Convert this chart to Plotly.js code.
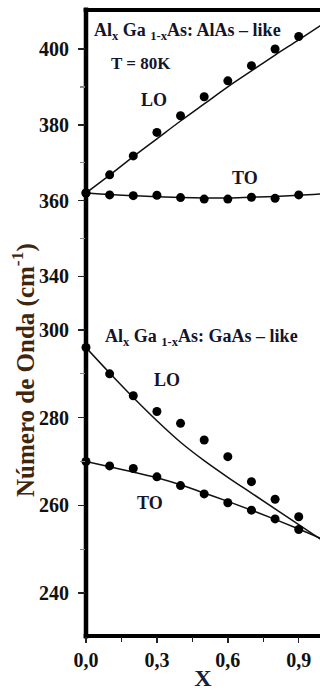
<!DOCTYPE html>
<html>
<head>
<meta charset="utf-8">
<script src="https://cdn.plot.ly/plotly-3.0.1.min.js"></script>
<style>
html,body{margin:0;padding:0;background:#fff;}
#chart{width:320px;height:691px;}
</style>
</head>
<body>
<div id="chart"></div>
<script>
// ---- data ----
var xPts = [0.0, 0.1, 0.2, 0.3, 0.4, 0.5, 0.6, 0.7, 0.8, 0.9];
var xFit = [0.0, 0.1, 0.2, 0.3, 0.4, 0.5, 0.6, 0.7, 0.8, 0.9, 1.0];

// AlAs-like (upper part of the broken axis)
var alasLO = [362.0, 366.8, 371.8, 378.0, 382.4, 387.4, 391.6, 395.6, 400.0, 403.3];
var alasTO = [362.0, 361.5, 361.3, 361.4, 360.8, 360.4, 360.4, 360.9, 360.6, 361.5];
var alasLOfit = [362.0, 366.7, 371.6, 376.3, 381.0, 385.5, 390.0, 394.2, 398.4, 402.4, 406.5];
var alasTOfit = [362.0, 361.6, 361.3, 361.0, 360.8, 360.7, 360.7, 360.9, 361.1, 361.4, 361.8];

// GaAs-like (lower part of the broken axis)
var gaasLO = [296.0, 290.0, 285.0, 281.4, 278.7, 274.9, 271.1, 265.4, 261.4, 257.4];
var xTOgaas = [0.0, 0.1, 0.2, 0.3, 0.4, 0.5, 0.6, 0.7, 0.8, 0.9, 1.0];
var gaasTO = [270.0, 269.0, 268.4, 266.5, 264.5, 262.6, 260.6, 258.9, 256.9, 254.5, 252.3];
var gaasLOfit = [296.0, 290.2, 284.6, 279.3, 274.4, 270.2, 266.4, 262.8, 259.2, 255.6, 252.0];
var gaasTOfit = [270.0, 268.8, 267.6, 266.3, 264.7, 262.8, 260.9, 258.9, 256.8, 254.6, 252.3];

// ticks
var xTickVals = [0.0, 0.3, 0.6, 0.9];
var xTickText = ['0,0', '0,3', '0,6', '0,9'];
var xMinorVals = [0.15, 0.45, 0.75];
var yTopTicks = [340, 360, 380, 400];
var yTopMinor = [350, 370, 390];
var yBotTicks = [240, 260, 280, 300];
var yBotMinor = [250, 270, 290];

// ---- styling ----
var serif = 'Liberation Serif, Times New Roman, serif';
var lineStyle = {color: '#111', width: 1.5, shape: 'spline'};
var markStyle = {color: '#000', size: 9};

var traces = [
  {x: xFit, y: alasLOfit, yaxis: 'y2', mode: 'lines', line: lineStyle, cliponaxis: false, hoverinfo: 'skip'},
  {x: xFit, y: alasTOfit, yaxis: 'y2', mode: 'lines', line: lineStyle, cliponaxis: false, hoverinfo: 'skip'},
  {x: xPts, y: alasLO, yaxis: 'y2', mode: 'markers', marker: markStyle, cliponaxis: false},
  {x: xPts, y: alasTO, yaxis: 'y2', mode: 'markers', marker: markStyle, cliponaxis: false},
  {x: xFit, y: gaasLOfit, yaxis: 'y', mode: 'lines', line: lineStyle, cliponaxis: false, hoverinfo: 'skip'},
  {x: xFit, y: gaasTOfit, yaxis: 'y', mode: 'lines', line: lineStyle, cliponaxis: false, hoverinfo: 'skip'},
  {x: xPts, y: gaasLO, yaxis: 'y', mode: 'markers', marker: markStyle, cliponaxis: false},
  {x: xTOgaas, y: gaasTO, yaxis: 'y', mode: 'markers', marker: markStyle, cliponaxis: false}
];

var tickFont = {family: serif, size: 20, color: '#111', weight: 700};
var split = 0.5367;

var ann = function(text, x, y, xref, yref, opts) {
  var a = {text: text, x: x, y: y, xref: xref, yref: yref, showarrow: false,
           xanchor: 'center', yanchor: 'middle',
           font: {family: serif, size: 18, color: '#14142a', weight: 700}};
  for (var k in (opts || {})) a[k] = opts[k];
  return a;
};

var layout = {
  width: 320, height: 691,
  margin: {l: 86, r: 0, t: 10, b: 55},
  paper_bgcolor: '#fff', plot_bgcolor: '#fff',
  showlegend: false,
  xaxis: {
    range: [0, 0.99], anchor: 'y',
    tickmode: 'array', tickvals: xTickVals, ticktext: xTickText,
    ticks: 'outside', ticklen: 6, tickwidth: 1.5, tickcolor: '#222',
    minor: {tickmode: 'array', tickvals: xMinorVals, ticks: 'outside', ticklen: 5, tickwidth: 1.2, tickcolor: '#222'},
    showgrid: false, zeroline: false, showline: false,
    tickfont: tickFont,
    title: {text: 'X', font: {family: serif, size: 24, color: '#14203a', weight: 700}, standoff: 0}
  },
  yaxis: {
    domain: [0, split], range: [230.19, 306.84], anchor: 'x',
    tickmode: 'array', tickvals: yBotTicks,
    ticks: 'outside', ticklen: 7, tickwidth: 1.5, tickcolor: '#222',
    ticklabelstandoff: 5,
    minor: {tickmode: 'array', tickvals: yBotMinor, ticks: 'outside', ticklen: 5, tickwidth: 1.2, tickcolor: '#888'},
    showgrid: false, zeroline: false, showline: false,
    tickfont: tickFont
  },
  yaxis2: {
    domain: [split, 1], range: [333.77, 410.29], anchor: 'x',
    tickmode: 'array', tickvals: yTopTicks,
    ticks: 'outside', ticklen: 7, tickwidth: 1.5, tickcolor: '#222',
    ticklabelstandoff: 5,
    minor: {tickmode: 'array', tickvals: yTopMinor, ticks: 'outside', ticklen: 5, tickwidth: 1.2, tickcolor: '#888'},
    showgrid: false, zeroline: false, showline: false,
    tickfont: tickFont
  },
  shapes: [
    {type: 'line', xref: 'paper', yref: 'paper', x0: 0, x1: 0, y0: -0.004, y1: 1.004, line: {color: '#000', width: 4.5}, layer: 'below'},
    {type: 'line', xref: 'paper', yref: 'paper', x0: -0.01, x1: 1.0, y0: 0, y1: 0, line: {color: '#000', width: 4}, layer: 'below'},
    {type: 'line', xref: 'paper', yref: 'paper', x0: -0.01, x1: 1.0, y0: 1, y1: 1, line: {color: '#000', width: 4}, layer: 'below'}
  ],
  annotations: [
    ann('Al<sub>x</sub> Ga <sub>1-x</sub>As: AlAs – like', 0.025, 404.5, 'x', 'y2', {xanchor: 'left', font: {family: serif, size: 18, color: '#14142a', weight: 700}}),
    ann('T = 80K', 0.233, 396.3, 'x', 'y2', {font: {family: serif, size: 17, color: '#14142a', weight: 700}}),
    ann('LO', 0.286, 386.5, 'x', 'y2'),
    ann('TO', 0.674, 366.0, 'x', 'y2'),
    ann('Al<sub>x</sub> Ga <sub>1-x</sub>As: GaAs – like', 0.072, 298.2, 'x', 'y', {xanchor: 'left', font: {family: serif, size: 18, color: '#14142a', weight: 700}}),
    ann('LO', 0.343, 288.6, 'x', 'y'),
    ann('TO', 0.271, 260.5, 'x', 'y'),
    ann('Número de Onda (cm<sup>-1</sup>)', -0.265, 0.425, 'paper', 'paper',
        {textangle: -90, font: {family: serif, size: 25, color: '#3f260c', weight: 700}})
  ]
};

Plotly.newPlot('chart', traces, layout, {staticPlot: true, displayModeBar: false});
</script>
</body>
</html>
